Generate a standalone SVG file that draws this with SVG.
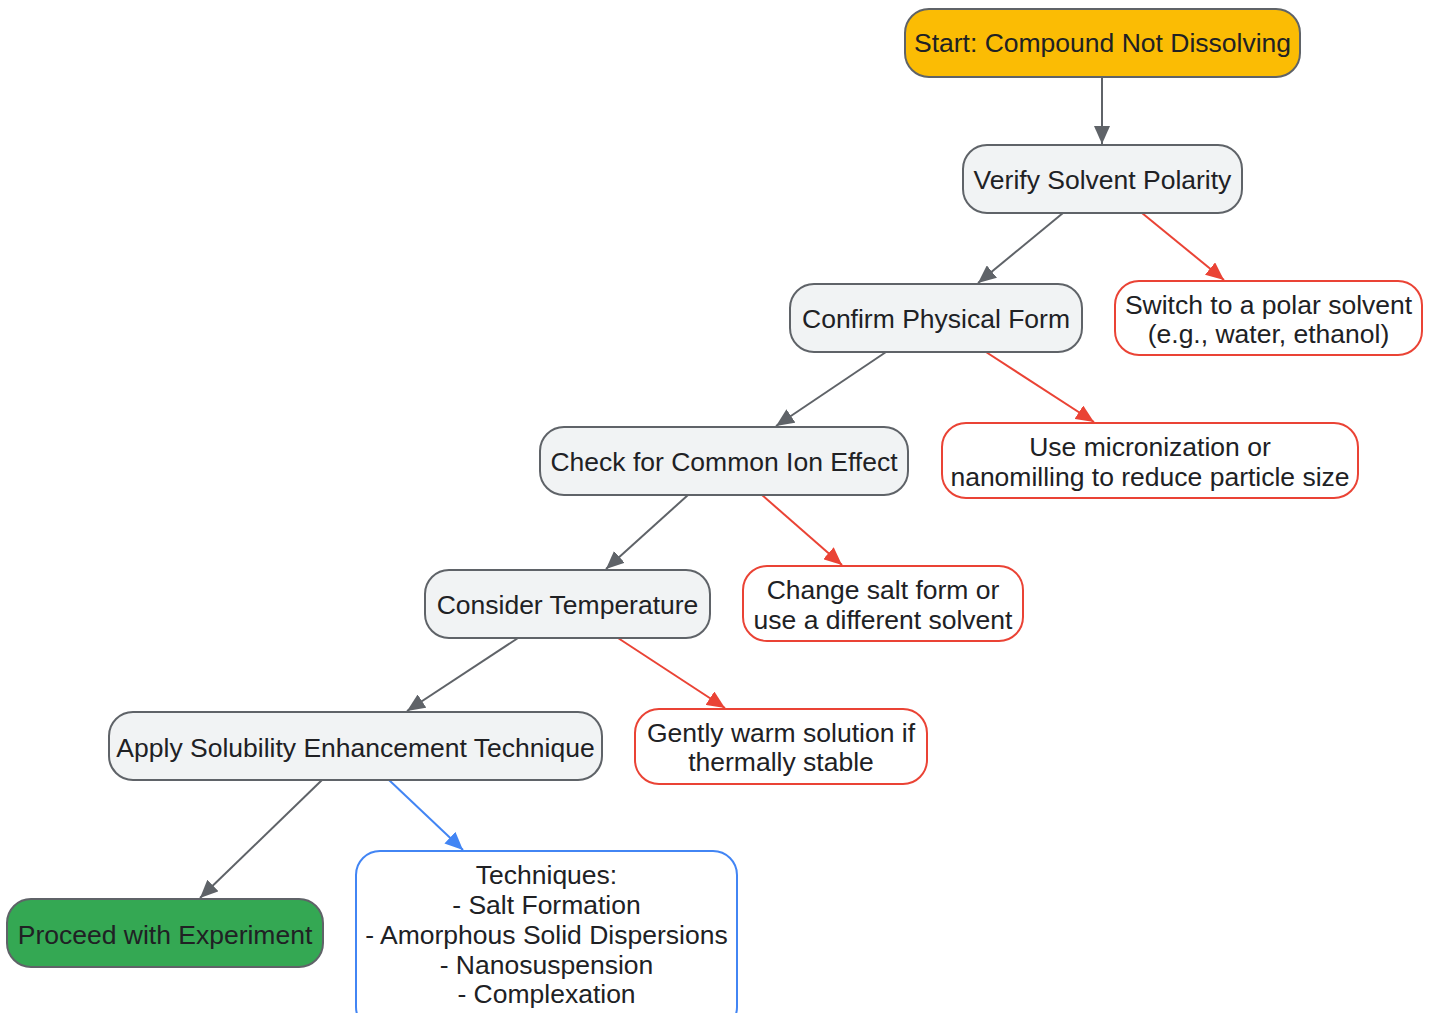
<svg xmlns="http://www.w3.org/2000/svg" width="1434" height="1013" viewBox="0 0 1434 1013">
<style>
text{font-family:"Liberation Sans",Arial,sans-serif;font-size:26.5px;fill:#202124;text-anchor:middle}
.g{fill:#F1F3F4;stroke:#5F6368;stroke-width:2}
.r{fill:#FFFFFF;stroke:#EA4335;stroke-width:2}
.b{fill:#FFFFFF;stroke:#4285F4;stroke-width:2}
.e{fill:none;stroke-width:2}
.eg{stroke:#5F6368}
.er{stroke:#EA4335}
.eb{stroke:#4285F4}
</style>
<defs>
<marker id="ag" markerUnits="userSpaceOnUse" markerWidth="20" markerHeight="16" refX="18" refY="8" orient="auto"><path d="M0,0 L18,8 L0,16 Z" fill="#5F6368"/></marker>
<marker id="ar" markerUnits="userSpaceOnUse" markerWidth="20" markerHeight="16" refX="18" refY="8" orient="auto"><path d="M0,0 L18,8 L0,16 Z" fill="#EA4335"/></marker>
<marker id="ab" markerUnits="userSpaceOnUse" markerWidth="20" markerHeight="16" refX="18" refY="8" orient="auto"><path d="M0,0 L18,8 L0,16 Z" fill="#4285F4"/></marker>
</defs>
<rect width="1434" height="1013" fill="#FFFFFF"/>
<g id="edges">
<line class="e eg" x1="1102" y1="77" x2="1102" y2="144" marker-end="url(#ag)"/>
<line class="e eg" x1="1063" y1="213" x2="978" y2="283" marker-end="url(#ag)"/>
<line class="e er" x1="1142" y1="213" x2="1224" y2="280" marker-end="url(#ar)"/>
<line class="e eg" x1="886" y1="352" x2="776" y2="426" marker-end="url(#ag)"/>
<line class="e er" x1="986" y1="352" x2="1094" y2="422" marker-end="url(#ar)"/>
<line class="e eg" x1="688" y1="495" x2="606" y2="569" marker-end="url(#ag)"/>
<line class="e er" x1="762" y1="495" x2="842" y2="565" marker-end="url(#ar)"/>
<line class="e eg" x1="518" y1="638" x2="407" y2="711" marker-end="url(#ag)"/>
<line class="e er" x1="618" y1="638" x2="725" y2="708" marker-end="url(#ar)"/>
<line class="e eg" x1="322" y1="780" x2="200" y2="898" marker-end="url(#ag)"/>
<line class="e eb" x1="389" y1="780" x2="463" y2="850" marker-end="url(#ab)"/>
</g>
<g id="start"><rect x="905" y="9" width="395" height="68" rx="24" fill="#FBBC04" stroke="#5F6368" stroke-width="2"/><text x="1102.5" y="52">Start: Compound Not Dissolving</text></g>
<g id="verify"><rect class="g" x="963" y="145" width="279" height="68" rx="24"/><text x="1102.5" y="189">Verify Solvent Polarity</text></g>
<g id="switch"><rect class="r" x="1115" y="281" width="307" height="74" rx="24"/><text x="1268.5" y="314">Switch to a polar solvent</text><text x="1268.5" y="343">(e.g., water, ethanol)</text></g>
<g id="confirm"><rect class="g" x="790" y="284" width="292" height="68" rx="24"/><text x="936" y="328">Confirm Physical Form</text></g>
<g id="micronize"><rect class="r" x="942" y="423" width="416" height="75" rx="24"/><text x="1150" y="456">Use micronization or</text><text x="1150" y="486">nanomilling to reduce particle size</text></g>
<g id="check"><rect class="g" x="540" y="427" width="368" height="68" rx="24"/><text x="724" y="471">Check for Common Ion Effect</text></g>
<g id="salt"><rect class="r" x="743" y="566" width="280" height="75" rx="24"/><text x="883" y="599">Change salt form or</text><text x="883" y="629">use a different solvent</text></g>
<g id="temp"><rect class="g" x="425" y="570" width="285" height="68" rx="24"/><text x="567.5" y="614">Consider Temperature</text></g>
<g id="warm"><rect class="r" x="635" y="709" width="292" height="75" rx="24"/><text x="781" y="742">Gently warm solution if</text><text x="781" y="771">thermally stable</text></g>
<g id="apply"><rect class="g" x="109" y="712" width="493" height="68" rx="24"/><text x="355.5" y="757">Apply Solubility Enhancement Technique</text></g>
<g id="proceed"><rect x="7" y="899" width="316" height="68" rx="24" fill="#34A853" stroke="#5F6368" stroke-width="2"/><text x="165" y="944">Proceed with Experiment</text></g>
<g id="techniques"><rect class="b" x="356" y="851" width="381" height="180" rx="24"/><text x="546.5" y="884">Techniques:</text><text x="546.5" y="914">- Salt Formation</text><text x="546.5" y="944">- Amorphous Solid Dispersions</text><text x="546.5" y="974">- Nanosuspension</text><text x="546.5" y="1003">- Complexation</text></g>
</svg>
